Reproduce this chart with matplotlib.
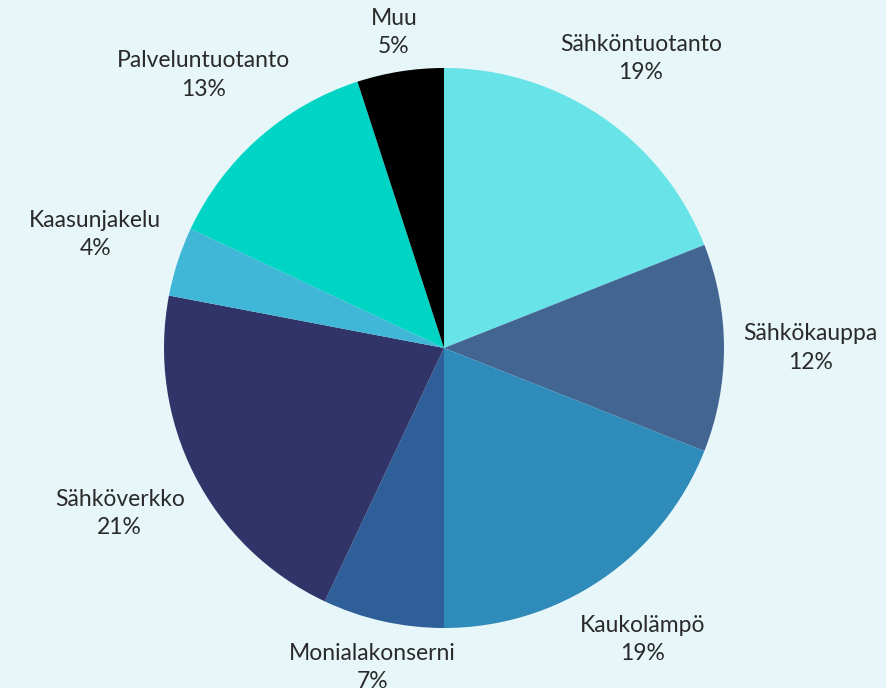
import matplotlib.pyplot as plt
import numpy as np

labels = ['Sähköntuotanto', 'Sähkökauppa', 'Kaukolämpö', 'Monialakonserni',
          'Sähköverkko', 'Kaasunjakelu', 'Palveluntuotanto', 'Muu']
shares = [19, 12, 19, 7, 21, 4, 13, 5]
colors = ['#68E4E8', '#436592', '#2E8BBA', '#2F5F98',
          '#303469', '#41B7D7', '#00D4C4', '#000000']
# how far out each label sits, relative to the radius
label_dist = [1.25, 1.31, 1.26, 1.17, 1.30, 1.31, 1.30, 1.14]

bg = '#E7F6F8'
plt.rcParams['font.family'] = ['Lato', 'DejaVu Sans']

fig = plt.figure(figsize=(8.87, 6.88), dpi=100, facecolor=bg)
ax = fig.add_axes([0, 0, 1, 1])
ax.set_facecolor(bg)

wedges, _ = ax.pie(shares, colors=colors, startangle=90, counterclock=False,
                   radius=1.0, wedgeprops=dict(linewidth=0))

for w, name, pct, d in zip(wedges, labels, shares, label_dist):
    ang = np.deg2rad((w.theta1 + w.theta2) / 2)
    ax.text(d * np.cos(ang), d * np.sin(ang), f'{name}\n{pct}%',
            ha='center', va='center', fontsize=16.5, color='#2a2a2a',
            linespacing=1.42)

ax.set_xlim(-444 / 280, (887 - 444) / 280)
ax.set_ylim(-(688 - 348) / 280, 348 / 280)
ax.axis('off')

fig.savefig('out.png', dpi=100, facecolor=bg)
